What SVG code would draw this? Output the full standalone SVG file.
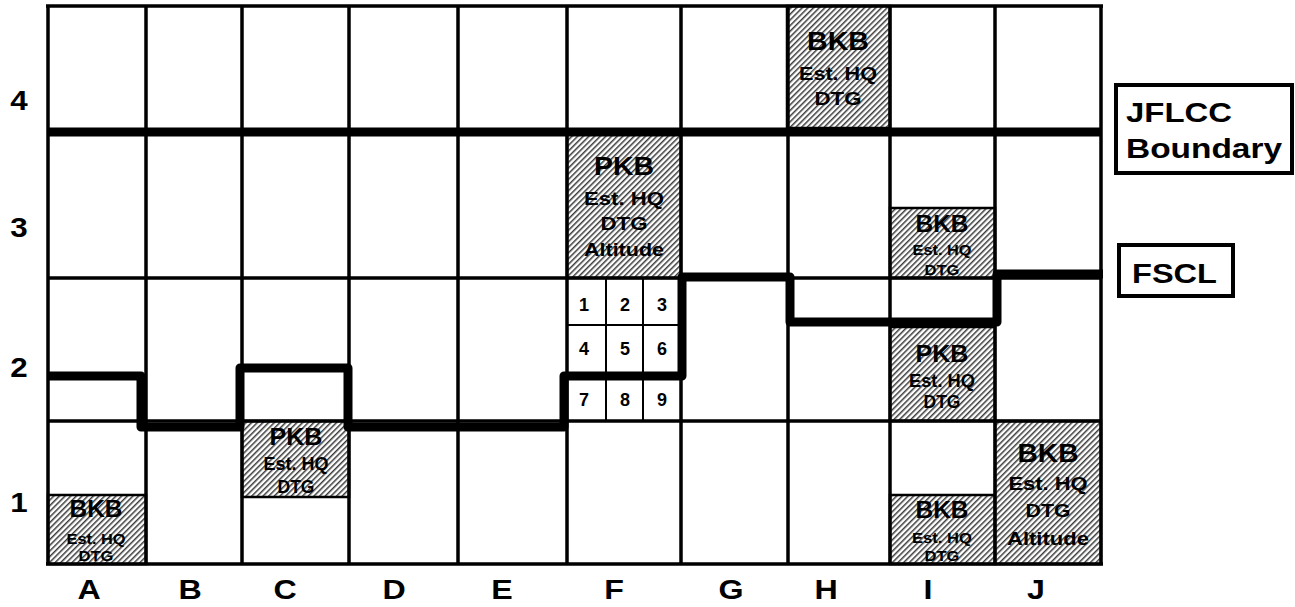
<svg xmlns="http://www.w3.org/2000/svg" width="1295" height="607" viewBox="0 0 1295 607">
<defs>
<pattern id="hatch" patternUnits="userSpaceOnUse" width="4" height="4" patternTransform="rotate(45)">
<rect width="4" height="4" fill="#fff"/>
<rect width="1.5" height="4" fill="#3a3a3a"/>
</pattern>
<style>
text{font-family:"Liberation Sans",Arial,sans-serif;font-weight:bold;fill:#000;text-anchor:middle}
.box{fill:url(#hatch);stroke:#000;stroke-width:2.5}
.grid{stroke:#000;stroke-width:3.5;fill:none}
.sub{stroke:#000;stroke-width:2;fill:none}
.thick{stroke:#000;stroke-width:9;fill:none;stroke-linejoin:round}
.lbl{font-size:28px}
.t1{font-size:25px}
.t2{font-size:19px}
.s1{font-size:23px}
.s2{font-size:15px}
.num{font-size:18px}
.leg{font-size:28px;text-anchor:start}
.legbox{fill:#fff;stroke:#000;stroke-width:4}
</style>
</defs>
<rect width="1295" height="607" fill="#fff"/>

<g id="boxes-fill">
<rect class="box" x="787" y="6" width="103" height="122"/>
<rect class="box" x="567" y="132" width="114" height="146"/>
<rect class="box" x="890" y="208" width="105" height="70"/>
<rect class="box" x="890" y="327" width="105" height="94"/>
<rect class="box" x="242" y="421" width="107" height="76"/>
<rect class="box" x="48" y="495" width="98" height="69"/>
<rect class="box" x="890" y="495" width="105" height="69"/>
<rect class="box" x="995" y="421" width="106" height="143"/>
</g>

<g id="grid">
<path class="grid" d="M48,6V564M146,6V564M242,6V564M349,6V564M458,6V564M567,6V564M681,6V564M788,6V564M890,6V564M995,6V564M1101,6V564"/>
<path class="grid" d="M46,6H1103M48,278H1101M48,421H1101M46,564H1103"/>
<path class="sub" d="M606,278V421M643,278V421M567,325H681M567,373H681"/>
</g>

<g id="connectors">
<path id="jflcc-line" class="thick" d="M48,132H1101"/>
<path id="fscl-line" class="thick" d="M48,376H141V427H240V368H348V427H564V376H682V277H790V322H997V274H1103"/>
</g>

<g id="row-labels">
<text class="lbl" transform="translate(19,110) scale(1.12,1)">4</text>
<text class="lbl" transform="translate(19,237) scale(1.12,1)">3</text>
<text class="lbl" transform="translate(19,377) scale(1.12,1)">2</text>
<text class="lbl" transform="translate(19,512) scale(1.12,1)">1</text>
</g>
<g id="col-labels">
<text class="lbl" transform="translate(89,599) scale(1.15,1)">A</text>
<text class="lbl" transform="translate(190,599) scale(1.15,1)">B</text>
<text class="lbl" transform="translate(285,599) scale(1.15,1)">C</text>
<text class="lbl" transform="translate(394,599) scale(1.15,1)">D</text>
<text class="lbl" transform="translate(502,599) scale(1.15,1)">E</text>
<text class="lbl" transform="translate(614,599) scale(1.15,1)">F</text>
<text class="lbl" transform="translate(731,599) scale(1.15,1)">G</text>
<text class="lbl" transform="translate(826,599) scale(1.15,1)">H</text>
<text class="lbl" transform="translate(928,599) scale(1.15,1)">I</text>
<text class="lbl" transform="translate(1036,599) scale(1.15,1)">J</text>
</g>

<g id="node-H4">
<text class="t1" x="838" y="50" textLength="62" lengthAdjust="spacingAndGlyphs">BKB</text>
<text class="t2" x="838" y="80" textLength="78" lengthAdjust="spacingAndGlyphs">Est. HQ</text>
<text class="t2" x="838" y="105" textLength="47" lengthAdjust="spacingAndGlyphs">DTG</text>
</g>
<g id="node-F3">
<text class="t1" x="624" y="175" textLength="60" lengthAdjust="spacingAndGlyphs">PKB</text>
<text class="t2" x="624" y="205" textLength="80" lengthAdjust="spacingAndGlyphs">Est. HQ</text>
<text class="t2" x="624" y="230" textLength="47" lengthAdjust="spacingAndGlyphs">DTG</text>
<text class="t2" x="624" y="256" textLength="80" lengthAdjust="spacingAndGlyphs">Altitude</text>
</g>
<g id="node-F2-subgrid">
<text class="num" x="584" y="311">1</text>
<text class="num" x="625" y="311">2</text>
<text class="num" x="662" y="311">3</text>
<text class="num" x="584" y="355">4</text>
<text class="num" x="625" y="355">5</text>
<text class="num" x="662" y="355">6</text>
<text class="num" x="584" y="406">7</text>
<text class="num" x="625" y="406">8</text>
<text class="num" x="662" y="406">9</text>
</g>
<g id="node-I3">
<text class="s1" x="942" y="232" textLength="53" lengthAdjust="spacingAndGlyphs">BKB</text>
<text class="s2" x="942" y="255" textLength="59" lengthAdjust="spacingAndGlyphs">Est. HQ</text>
<text class="s2" x="942" y="275" textLength="35" lengthAdjust="spacingAndGlyphs">DTG</text>
</g>
<g id="node-I2">
<text class="s1" x="942" y="362" textLength="53" lengthAdjust="spacingAndGlyphs">PKB</text>
<text class="t2" x="942" y="387" textLength="66" lengthAdjust="spacingAndGlyphs">Est. HQ</text>
<text class="t2" x="942" y="408" textLength="37" lengthAdjust="spacingAndGlyphs">DTG</text>
</g>
<g id="node-C1">
<text class="s1" x="296" y="445" textLength="53" lengthAdjust="spacingAndGlyphs">PKB</text>
<text class="t2" x="296" y="470" textLength="65" lengthAdjust="spacingAndGlyphs">Est. HQ</text>
<text class="t2" x="296" y="493" textLength="37" lengthAdjust="spacingAndGlyphs">DTG</text>
</g>
<g id="node-A1">
<text class="s1" x="96" y="517" textLength="53" lengthAdjust="spacingAndGlyphs">BKB</text>
<text class="s2" x="96" y="544" textLength="59" lengthAdjust="spacingAndGlyphs">Est. HQ</text>
<text class="s2" x="96" y="561" textLength="35" lengthAdjust="spacingAndGlyphs">DTG</text>
</g>
<g id="node-I1">
<text class="s1" x="942" y="518" textLength="53" lengthAdjust="spacingAndGlyphs">BKB</text>
<text class="s2" x="942" y="543" textLength="60" lengthAdjust="spacingAndGlyphs">Est. HQ</text>
<text class="s2" x="942" y="561" textLength="35" lengthAdjust="spacingAndGlyphs">DTG</text>
</g>
<g id="node-J1">
<text class="t1" x="1048" y="462" textLength="61" lengthAdjust="spacingAndGlyphs">BKB</text>
<text class="t2" x="1048" y="490" textLength="79" lengthAdjust="spacingAndGlyphs">Est. HQ</text>
<text class="t2" x="1048" y="517" textLength="45" lengthAdjust="spacingAndGlyphs">DTG</text>
<text class="t2" x="1048" y="545" textLength="82" lengthAdjust="spacingAndGlyphs">Altitude</text>
</g>

<g id="legend-jflcc">
<rect class="legbox" x="1116" y="85" width="176" height="88"/>
<text class="leg" x="1126" y="122" textLength="106" lengthAdjust="spacingAndGlyphs">JFLCC</text>
<text class="leg" x="1126" y="158" textLength="156" lengthAdjust="spacingAndGlyphs">Boundary</text>
</g>
<g id="legend-fscl">
<rect class="legbox" x="1119" y="245" width="114" height="51"/>
<text class="leg" x="1132" y="283" textLength="85" lengthAdjust="spacingAndGlyphs">FSCL</text>
</g>
</svg>
